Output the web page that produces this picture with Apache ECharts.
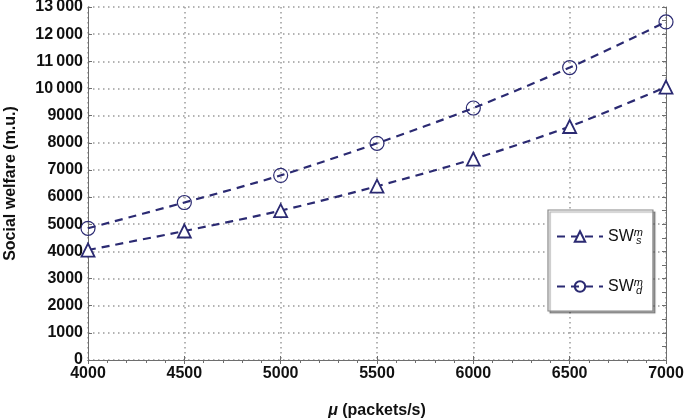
<!DOCTYPE html>
<html><head><meta charset="utf-8">
<script src="https://cdn.jsdelivr.net/npm/echarts@6/dist/echarts.min.js"></script>
<style>html,body{margin:0;padding:0;background:#fff}#c{width:685px;height:420px}</style>
</head><body><div id="c"></div>
<script>
var xValues = [4000, 4500, 5000, 5500, 6000, 6500, 7000];
var swS = [4050, 4750, 5500, 6400, 7400, 8600, 10050];
var swD = [4850, 5800, 6800, 7980, 9280, 10770, 12450];
var seriesNames = ['SWs', 'SWd'];

var lineColor = '#2b2a72';
var axisColor = '#6e6e6e';
var fontFam = '"Liberation Sans", Arial, sans-serif';

function pairs(arr) { return xValues.map(function (x, i) { return [x, arr[i]]; }); }
function fmtY(v) {
  if (v >= 10000) { var s = String(v); return s.slice(0, s.length - 3) + '\u2009' + s.slice(-3); }
  return String(v);
}

var chart = echarts.init(document.getElementById('c'), null, { renderer: 'canvas' });
var commonLine = { lineStyle: { color: axisColor, width: 1 } };
chart.setOption({
  animation: false,
  textStyle: { fontFamily: fontFam },
  grid: { left: 88, right: 19, top: 7, bottom: 60, outerBoundsMode: 'none', containLabel: false },
  xAxis: [{
    type: 'value', min: 4000, max: 7000, interval: 500, position: 'bottom',
    axisLine: commonLine,
    axisTick: { inside: true, length: 4, lineStyle: { color: axisColor } },
    axisLabel: { color: '#111', fontWeight: 'bold', fontSize: 16, fontFamily: fontFam, margin: 6,
      formatter: function (v) { return String(v); } },
    splitLine: { show: true, lineStyle: { color: '#9a9a9a', type: [1.5, 3.5], width: 1.5 } },
    name: '{mu|\u03bc} (packets/s)', nameLocation: 'middle', nameGap: 43,
    nameTextStyle: { color: '#111', fontWeight: 'bold', fontSize: 16, fontFamily: fontFam,
      rich: { mu: { fontStyle: 'italic', fontWeight: 'bold', fontSize: 16, fontFamily: fontFam, color: '#111' } } }
  }, {
    type: 'value', min: 4000, max: 7000, interval: 500, position: 'top',
    axisLine: commonLine,
    axisTick: { inside: true, length: 4, lineStyle: { color: axisColor } },
    minorTick: { show: true, splitNumber: 5, length: 3, lineStyle: { color: axisColor } },
    axisLabel: { show: false }, splitLine: { show: false }
  }],
  yAxis: [{
    type: 'value', min: 0, max: 13000, interval: 1000, position: 'left',
    axisLine: { show: true, lineStyle: { color: axisColor, width: 1 } },
    axisTick: { show: true, inside: true, length: 4, lineStyle: { color: axisColor } },
    axisLabel: { color: '#111', fontWeight: 'bold', fontSize: 16, fontFamily: fontFam, margin: 5, formatter: fmtY },
    splitLine: { show: true, interval: function (i) { return i % 2 === 0 && i > 0; },
      lineStyle: { color: '#9a9a9a', type: [1.5, 3.5], width: 1.5 } },
    name: 'Social welfare (m.u.)', nameLocation: 'middle', nameGap: 69,
    nameTextStyle: { color: '#111', fontWeight: 'bold', fontSize: 16, fontFamily: fontFam }
  }, {
    type: 'value', min: 0, max: 13000, interval: 1000, position: 'right',
    axisLine: { show: true, lineStyle: { color: axisColor, width: 1 } },
    axisTick: { show: true, inside: true, length: 4, lineStyle: { color: axisColor } },
    minorTick: { show: true, splitNumber: 2, length: 4, lineStyle: { color: axisColor } },
    axisLabel: { show: false }, splitLine: { show: false }
  }],
  legend: {
    orient: 'vertical', left: 548, top: 210,
    padding: [17, 10, 15, 8], itemGap: 31, itemWidth: 46, itemHeight: 13,
    backgroundColor: '#fff', borderColor: '#888', borderWidth: 1.2,
    shadowColor: 'rgba(0,0,0,0.35)', shadowOffsetX: 2, shadowOffsetY: 2, shadowBlur: 1,
    formatter: function (n) {
      return n === 'SWs' ? '{b|SW}{sup|m}{sub|s}' : '{b|SW}{sup|m}{sub|d}';
    },
    textStyle: {
      color: '#111', fontFamily: fontFam,
      rich: {
        b: { fontSize: 16, fontFamily: fontFam, color: '#111' },
        sup: { fontSize: 11, fontStyle: 'italic', fontFamily: fontFam, color: '#111', verticalAlign: 'top', padding: [0, 0, 8, 0] },
        sub: { fontSize: 11, fontStyle: 'italic', fontFamily: fontFam, color: '#111', verticalAlign: 'bottom', padding: [8, 0, 0, -7] }
      }
    },
    data: seriesNames
  },
  series: [{
    name: seriesNames[0], type: 'line', smooth: 0.3, data: pairs(swS),
    symbol: 'triangle', symbolSize: 13, showAllSymbol: true,
    lineStyle: { color: lineColor, width: 2.2, type: [8, 6] },
    itemStyle: { color: '#fff', borderColor: lineColor, borderWidth: 1.8 },
    z: 3
  }, {
    name: seriesNames[1], type: 'line', smooth: 0.3, data: pairs(swD),
    symbol: 'circle', symbolSize: 14, showAllSymbol: true,
    lineStyle: { color: lineColor, width: 2.2, type: [8, 6] },
    itemStyle: { color: 'rgba(255,255,255,0)', borderColor: lineColor, borderWidth: 1.2 },
    z: 3
  }]
});
</script></body></html>
